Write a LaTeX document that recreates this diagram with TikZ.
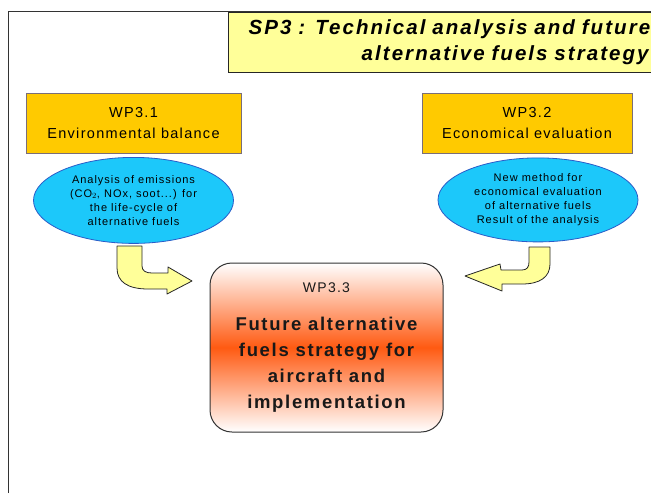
\documentclass[tikz,border=0pt]{standalone}
\usepackage{fontspec}
\setmainfont{Liberation Sans}[LetterSpace=9]
\usetikzlibrary{positioning, shapes.geometric}
\definecolor{titleyellow}{HTML}{FFFF99}
\definecolor{wpgold}{HTML}{FFCA00}
\definecolor{boxedge}{HTML}{7A6E78}
\definecolor{taskcyan}{HTML}{1CC8FA}
\definecolor{taskedge}{HTML}{2A5CC8}
\definecolor{stratorange}{HTML}{FF5A12}

\begin{document}
\begin{tikzpicture}[x=1pt, y=-1pt,
    wpbox/.style={draw=boxedge, line width=1pt, fill=wpgold, rectangle, minimum width=215pt, minimum height=60pt, inner sep=0pt, align=center, font=\fontsize{14.5}{21}\selectfont},
    task/.style={ellipse, draw=taskedge, line width=0.8pt, fill=taskcyan, minimum width=200pt, minimum height=86pt, inner sep=0pt, align=center, font=\fontsize{11}{14}\selectfont},
    bendarrow/.style={draw=black!85, line width=0.8pt, fill=titleyellow, line join=round}]
    \clip (0,0) rectangle (651,493);
    \fill[white] (0,0) rectangle (651,493);
    % frame and title
    \draw[black!80, line width=1pt] (8,493) -- (8,11) -- (651,11);
    \node[draw=black!85, line width=1.2pt, fill=titleyellow, anchor=north west, minimum width=440pt, minimum height=60pt, inner xsep=20pt, text width=400pt, align=right, font=\fontsize{20.5}{26}\selectfont\bfseries\itshape\addfontfeature{LetterSpace=10}] (title) at (228,12) {SP3 : Technical analysis and future\\alternative fuels strategy};
    % work packages
    \node[wpbox] (wp1) at (133.5,123.5) {WP3.1\\Environmental balance};
    \node[task, below=3pt of wp1] (task1) {Analysis of emissions\\(CO$_2$, NOx, soot...) for\\the life-cycle of\\alternative fuels};
    \node[wpbox, minimum width=210pt] (wp2) at (527,123) {WP3.2\\Economical evaluation};
    \node[task, below=4pt of wp2, xshift=11pt, minimum height=84pt] (task2) {New method for\\economical evaluation\\of alternative fuels\\Result of the analysis};
    \node[draw=black!80, line width=1pt, rounded corners=22pt, minimum width=233pt, minimum height=169pt, top color=white, bottom color=white, middle color=stratorange, align=center, text=black!90, font=\fontsize{18.5}{26}\selectfont\bfseries] (wp3) at (326.5,347.5) {{\mdseries\fontsize{14}{17}\selectfont WP3.3}\\[12pt]Future alternative\\fuels strategy for\\aircraft and\\implementation};
    % bent arrows
    \filldraw[bendarrow] (117,246) -- (142,246) -- (142,266) .. controls (142,271) and (146,273) .. (152,273) -- (168,273) -- (168,267) -- (192,281) -- (167,294) -- (167,289) -- (148,289) .. controls (128,289) and (117,282) .. (117,268) -- cycle;
    \filldraw[bendarrow] (529,247) -- (550,247) -- (550,264) .. controls (550,277) and (540,284) .. (522,284) -- (502,284) -- (502,291) -- (465,276) -- (500,264) -- (501,270) -- (522,270) .. controls (527,270) and (529,267) .. (529,262) -- cycle;
\end{tikzpicture}
\end{document}
